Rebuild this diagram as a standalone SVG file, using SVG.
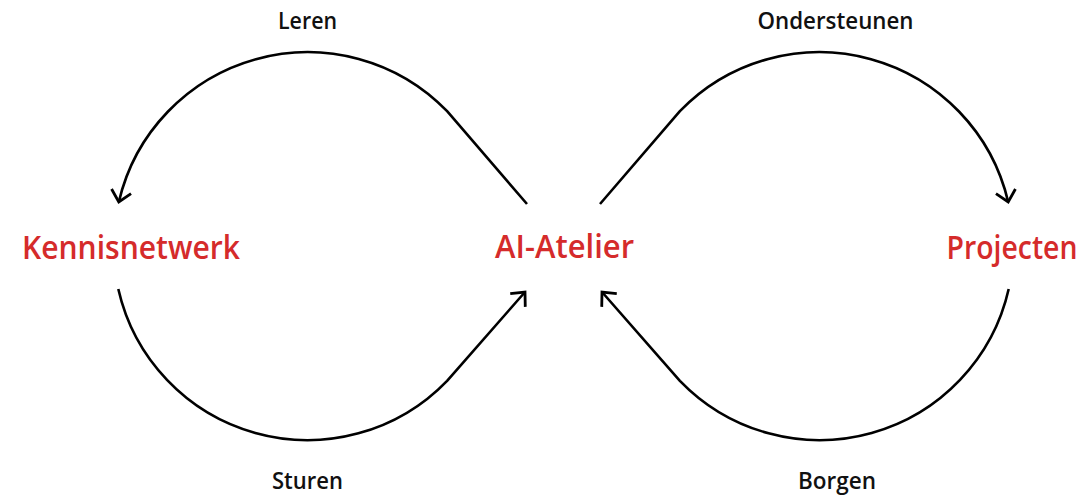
<svg xmlns="http://www.w3.org/2000/svg" width="1092" height="495" viewBox="0 0 1092 495">
<style>
.node{font-family:"Open Sans","Noto Sans","Liberation Sans",sans-serif;font-weight:600;font-size:32px;fill:#d52b2b;text-anchor:middle}
.lbl{font-family:"Open Sans","Noto Sans","Liberation Sans",sans-serif;font-weight:600;font-size:23px;fill:#111;text-anchor:middle}
.conn{fill:none;stroke:#000;stroke-width:2.6;stroke-linejoin:round}
</style>
<defs>
<marker id="arr" markerUnits="userSpaceOnUse" markerWidth="30" markerHeight="30" viewBox="-15 -15 30 30" refX="0" refY="0" orient="auto">
<path d="M-11,-10 L0,0 L-11,10" fill="none" stroke="#000" stroke-width="2.8" stroke-linecap="butt" stroke-linejoin="miter"/>
</marker>
</defs>
<rect width="1092" height="495" fill="#fff"/>
<g id="connectors">
<path class="conn" d="M527,204 L447.1,111.2 A194,194 0 0 0 118.8,202" marker-end="url(#arr)"/>
<path class="conn" d="M118.3,289 A194,194 0 0 0 447.1,380.8 L525,292" marker-end="url(#arr)"/>
<path class="conn" d="M600,204 L679.9,111.2 A194,194 0 0 1 1008.2,202" marker-end="url(#arr)"/>
<path class="conn" d="M1008.7,289 A194,194 0 0 1 679.9,380.8 L602,292" marker-end="url(#arr)"/>
</g>
<g id="label-leren"><text class="lbl" x="307.5" y="29" textLength="59" lengthAdjust="spacingAndGlyphs">Leren</text></g>
<g id="label-ondersteunen"><text class="lbl" x="835.5" y="29" textLength="156" lengthAdjust="spacingAndGlyphs">Ondersteunen</text></g>
<g id="label-sturen"><text class="lbl" x="307.5" y="489" textLength="71" lengthAdjust="spacingAndGlyphs">Sturen</text></g>
<g id="label-borgen"><text class="lbl" x="837" y="489" textLength="78" lengthAdjust="spacingAndGlyphs">Borgen</text></g>
<g id="node-kennisnetwerk"><text class="node" x="131" y="259" textLength="218" lengthAdjust="spacingAndGlyphs">Kennisnetwerk</text></g>
<g id="node-ai-atelier"><text class="node" x="564.5" y="258" textLength="139" lengthAdjust="spacingAndGlyphs">AI-Atelier</text></g>
<g id="node-projecten"><text class="node" x="1012" y="259" textLength="131" lengthAdjust="spacingAndGlyphs">Projecten</text></g>
</svg>
